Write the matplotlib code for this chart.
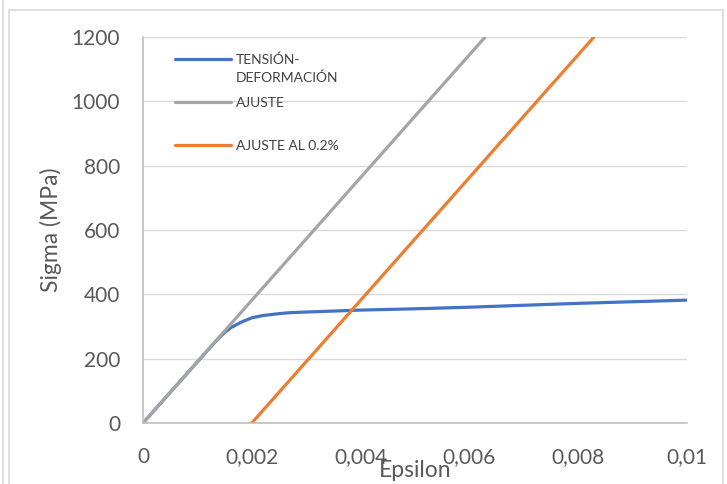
import matplotlib
matplotlib.use("Agg")
import matplotlib.pyplot as plt
from matplotlib.patches import Rectangle
from matplotlib.lines import Line2D

plt.rcParams['font.family'] = ['Lato', 'DejaVu Sans']

# Curva tension-deformacion
eps_curva = [0, 0.0005, 0.001, 0.0012, 0.0013, 0.0014, 0.0015, 0.0016, 0.0018,
             0.002, 0.0022, 0.0025, 0.0027, 0.003, 0.0035, 0.004, 0.005,
             0.006, 0.007, 0.008, 0.009, 0.01]
sigma_curva = [0, 95, 190, 228, 247, 265, 281, 295, 313,
               327, 334, 340, 343, 345, 348, 351, 355,
               360, 366, 372, 377, 382]

# Recta de ajuste (modulo elastico)
eps_ajuste = [0, 0.00629]
sigma_ajuste = [0, 1200]

# Recta desplazada al 0.2%
eps_02 = [0.002, 0.00829]
sigma_02 = [0, 1200]

labels = ["TENSIÓN-\nDEFORMACIÓN", "AJUSTE\n ", "AJUSTE AL 0.2%"]
xticks = [0, 0.002, 0.004, 0.006, 0.008, 0.01]
xtick_labels = ["0", "0,002", "0,004", "0,006", "0,008", "0,01"]
yticks = [0, 200, 400, 600, 800, 1000, 1200]

W, H = 727, 484
fig = plt.figure(figsize=(W / 100, H / 100), dpi=100)
ax = fig.add_axes([143 / W, 1 - 423 / H, 544 / W, 386 / H])

ax.plot(eps_curva, sigma_curva, color="#4472C4", lw=2.3, solid_capstyle="round")
ax.plot(eps_ajuste, sigma_ajuste, color="#A5A5A5", lw=2.3, solid_capstyle="round")
ax.plot(eps_02, sigma_02, color="#ED7D31", lw=2.3, solid_capstyle="round")

ax.set_xlim(0, 0.01)
ax.set_ylim(0, 1200)
ax.set_xticks(xticks)
ax.set_xticklabels(xtick_labels)
ax.set_yticks(yticks)
ax.grid(axis="y", color="#D9D9D9", lw=1)
ax.set_axisbelow(True)

for s in ["top", "right"]:
    ax.spines[s].set_visible(False)
for s in ["left", "bottom"]:
    ax.spines[s].set_color("#BFBFBF")
    ax.spines[s].set_linewidth(1.2)

ax.tick_params(axis="both", length=0, labelsize=15, labelcolor="#595959")
ax.tick_params(axis="y", pad=16.5)
ax.tick_params(axis="x", pad=17.3)

ax.set_ylabel("Sigma (MPa)", fontsize=16.5, color="#595959")
ax.yaxis.set_label_coords(-0.149, 0.5)
ax.set_xlabel("Epsilon", fontsize=16.5, color="#595959")
ax.xaxis.set_label_coords(0.5, -0.096)

leg = ax.legend(labels, loc="upper left", bbox_to_anchor=(0.0588, 0.956),
                frameon=False, fontsize=10, handlelength=4, handletextpad=0.36,
                labelspacing=0.95, borderpad=0, borderaxespad=0)
for t in leg.get_texts():
    t.set_color("#404040")
    t.set_linespacing(1.5)
# align the swatch with the first text line of the two-line entries
for h in leg.legend_handles[:2]:
    h.set_ydata([y + 7.2 for y in h.get_ydata()])

# chart frame
fig.add_artist(Rectangle((9 / W, -0.05), (723 - 9) / W, 1 - 10 / H + 0.05,
                         transform=fig.transFigure, fill=False,
                         edgecolor="#D9D9D9", lw=1.2))
fig.add_artist(Line2D([3 / W, 3 / W], [0, 1], transform=fig.transFigure,
                      color="#D9D9D9", lw=1.2))

fig.savefig("out.png", dpi=100)
